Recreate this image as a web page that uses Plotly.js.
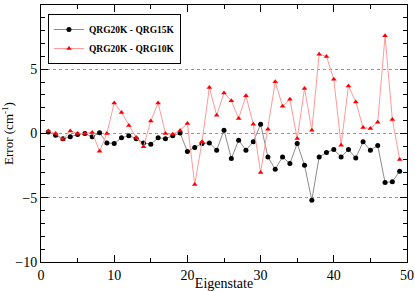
<!DOCTYPE html>
<html>
<head>
<meta charset="utf-8">
<script src="https://cdn.plot.ly/plotly-3.0.1.min.js"></script>
<style>html,body{margin:0;padding:0;background:#fff;}#chart{width:415px;height:291px;}</style>
</head>
<body>
<div id="chart"></div>
<script>
const eigenstates = [1,2,3,4,5,6,7,8,9,10,11,12,13,14,15,16,17,18,19,20,21,22,23,24,25,26,27,28,29,30,31,32,33,34,35,36,37,38,39,40,41,42,43,44,45,46,47,48,49];
const diff15K = [0.12,-0.13,-0.4,-0.26,-0.08,0,-0.26,0.05,-0.73,-0.78,-0.34,-0.18,-0.4,-0.73,-0.83,-0.34,-0.4,-0.18,0.03,-1.4,-1.09,-0.78,-0.73,-1.3,0.26,-1.95,-0.52,-1.3,-0.65,0.72,-1.82,-2.78,-1.82,-2.34,-0.78,-2.47,-5.19,-1.82,-1.48,-1.25,-1.82,-1.25,-1.9,-0.65,-1.3,-0.93,-3.81,-3.76,-2.93];
const diff10K = [0.2,0,-0.44,0.2,0,0,0.08,-1.38,0,2.38,1.63,0.62,-0.31,-1.04,0.98,2.38,0,-0.05,0.24,0.78,-3.97,-0.65,3.58,1.42,3.16,2.54,1.17,2.93,0.72,-3.03,0.33,4.02,2.12,2.67,-0.39,3.5,0.26,6.17,6.0,4.22,-0.91,3.7,2.46,0.47,0.39,0.88,7.6,1.09,-2.02];
const names = ["QRG20K - QRG15K", "QRG20K - QRG10K"];

const serif = "Liberation Serif";
const traces = [
  {x: eigenstates, y: diff15K, name: names[0], type: "scatter", mode: "lines+markers",
   line: {color: "#8c8c8c", width: 1}, marker: {color: "#000", symbol: "circle", size: 5}},
  {x: eigenstates, y: diff10K, name: names[1], type: "scatter", mode: "lines+markers",
   line: {color: "#ff9a9a", width: 1}, marker: {color: "#ff0000", symbol: "triangle-up", size: 5}}
];
const layout = {
  width: 415, height: 291,
  margin: {l: 41, r: 8, t: 5, b: 29},
  paper_bgcolor: "#fff", plot_bgcolor: "#fff",
  font: {family: serif, size: 14, color: "#000"},
  showlegend: true,
  legend: {x: 0.019, y: 0.965, xanchor: "left", yanchor: "top",
           bordercolor: "#000", borderwidth: 1, bgcolor: "#fff",
           font: {family: serif, size: 9.5, color: "#000", weight: "bold"},
           tracegroupgap: 0, itemwidth: 30},
  xaxis: {
    showline: true, linecolor: "#000", linewidth: 1, mirror: "ticks",
    ticks: "inside", ticklen: 7, tickcolor: "#000", tickwidth: 1, zeroline: false,
    tickfont: {family: serif, size: 14, color: "#000"},
    range: [0, 50], dtick: 10, tick0: 0, showgrid: false,
    minor: {dtick: 5, ticks: "inside", ticklen: 4, tickcolor: "#000", showgrid: false},
    title: {text: "Eigenstate", font: {family: serif, size: 14, color: "#000"}, standoff: 4}
  },
  yaxis: {
    showline: true, linecolor: "#000", linewidth: 1, mirror: "ticks",
    ticks: "inside", ticklen: 7, tickcolor: "#000", tickwidth: 1, zeroline: false,
    tickfont: {family: serif, size: 14, color: "#000"},
    range: [-10, 10], dtick: 5, tick0: 0,
    showgrid: true, gridcolor: "#d070b8", griddash: "dot", gridwidth: 1,
    minor: {dtick: 1, ticks: "inside", ticklen: 4, tickcolor: "#000", showgrid: false},
    title: {text: "Error (cm<sup>-1</sup>)", font: {family: serif, size: 13, color: "#000"}, standoff: 8}
  }
};
Plotly.newPlot("chart", traces, layout, {displayModeBar: false, staticPlot: true});
</script>
</body>
</html>
